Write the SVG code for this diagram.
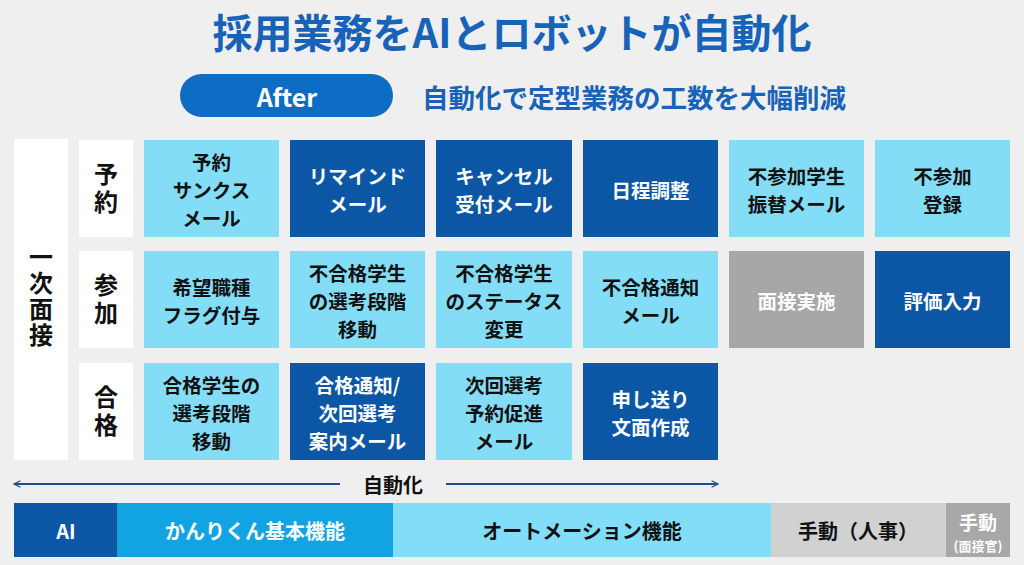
<svg xmlns="http://www.w3.org/2000/svg" width="1024" height="565" viewBox="0 0 1024 565">
<style>
  text { font-family: "Noto Sans CJK JP", "Noto Sans", sans-serif; font-weight: 700; text-anchor: middle; dominant-baseline: central; }
  .light { fill: #84DDF7; }
  .dark { fill: #0B57A5; }
  .gray { fill: #A7A7A7; }
  .white { fill: #FFFFFF; }
  .tb { fill: #111111; font-size: 19.5px; }
  .tw { fill: #FFFFFF; font-size: 19.5px; }
  .vlab { fill: #111111; font-size: 24px; writing-mode: vertical-rl; }
  .bar { font-size: 20px; }
</style>
<defs>
  <marker id="chev" viewBox="0 0 10 10" refX="9" refY="5" markerWidth="8" markerHeight="8" markerUnits="userSpaceOnUse" orient="auto-start-reverse">
    <path d="M1,1 L9,5 L1,9" fill="none" stroke="#1F4F8E" stroke-width="1.5"/>
  </marker>
</defs>
<rect width="1024" height="565" fill="#EFEFEF"/>

<g id="title">
  <text x="512" y="31" style="font-size:40px;fill:#1763B9">採用業務をAIとロボットが自動化</text>
</g>
<g id="after">
  <rect x="180" y="74" width="213" height="43" rx="21.5" fill="#0D6CC3"/>
  <text x="287" y="96" style="font-size:25px;fill:#FFFFFF">After</text>
  <text x="634" y="96" style="font-size:26.5px;fill:#1763B9">自動化で定型業務の工数を大幅削減</text>
</g>

<g id="phase">
  <rect class="white" x="14" y="139" width="54" height="321"/>
  <text class="vlab" x="41" y="297" style="letter-spacing:2px">一次面接</text>
</g>
<g id="row-yoyaku">
  <rect class="white" x="79" y="140" width="54" height="97"/>
  <text class="vlab" x="106" y="190" style="letter-spacing:4px">予約</text>
</g>
<g id="row-sanka">
  <rect class="white" x="79" y="251" width="54" height="97"/>
  <text class="vlab" x="106" y="301" style="letter-spacing:4px">参加</text>
</g>
<g id="row-goukaku">
  <rect class="white" x="79" y="363" width="54" height="97"/>
  <text class="vlab" x="106" y="413" style="letter-spacing:4px">合格</text>
</g>

<!-- Row 1 -->
<g id="n11"><rect class="light" x="144" y="140" width="135" height="97"/>
  <text class="tb" x="211.5" y="161">予約</text><text class="tb" x="211.5" y="189">サンクス</text><text class="tb" x="211.5" y="217">メール</text></g>
<g id="n12"><rect class="dark" x="290" y="140" width="135" height="97"/>
  <text class="tw" x="357.5" y="175">リマインド</text><text class="tw" x="357.5" y="203">メール</text></g>
<g id="n13"><rect class="dark" x="436" y="140" width="136" height="97"/>
  <text class="tw" x="504" y="175">キャンセル</text><text class="tw" x="504" y="203">受付メール</text></g>
<g id="n14"><rect class="dark" x="583" y="140" width="135" height="97"/>
  <text class="tw" x="650.5" y="189">日程調整</text></g>
<g id="n15"><rect class="light" x="729" y="140" width="135" height="97"/>
  <text class="tb" x="796.5" y="175">不参加学生</text><text class="tb" x="796.5" y="203">振替メール</text></g>
<g id="n16"><rect class="light" x="875" y="140" width="135" height="97"/>
  <text class="tb" x="942.5" y="175">不参加</text><text class="tb" x="942.5" y="203">登録</text></g>

<!-- Row 2 -->
<g id="n21"><rect class="light" x="144" y="251" width="135" height="97"/>
  <text class="tb" x="211.5" y="286">希望職種</text><text class="tb" x="211.5" y="314">フラグ付与</text></g>
<g id="n22"><rect class="light" x="290" y="251" width="135" height="97"/>
  <text class="tb" x="357.5" y="272">不合格学生</text><text class="tb" x="357.5" y="300">の選考段階</text><text class="tb" x="357.5" y="328">移動</text></g>
<g id="n23"><rect class="light" x="436" y="251" width="136" height="97"/>
  <text class="tb" x="504" y="272">不合格学生</text><text class="tb" x="504" y="300">のステータス</text><text class="tb" x="504" y="328">変更</text></g>
<g id="n24"><rect class="light" x="583" y="251" width="135" height="97"/>
  <text class="tb" x="650.5" y="286">不合格通知</text><text class="tb" x="650.5" y="314">メール</text></g>
<g id="n25"><rect class="gray" x="729" y="251" width="135" height="97"/>
  <text class="tw" x="796.5" y="300">面接実施</text></g>
<g id="n26"><rect class="dark" x="875" y="251" width="135" height="97"/>
  <text class="tw" x="942.5" y="300">評価入力</text></g>

<!-- Row 3 -->
<g id="n31"><rect class="light" x="144" y="363" width="135" height="97"/>
  <text class="tb" x="211.5" y="384">合格学生の</text><text class="tb" x="211.5" y="412">選考段階</text><text class="tb" x="211.5" y="440">移動</text></g>
<g id="n32"><rect class="dark" x="290" y="363" width="135" height="97"/>
  <text class="tw" x="357.5" y="384">合格通知/</text><text class="tw" x="357.5" y="412">次回選考</text><text class="tw" x="357.5" y="440">案内メール</text></g>
<g id="n33"><rect class="light" x="436" y="363" width="136" height="97"/>
  <text class="tb" x="504" y="384">次回選考</text><text class="tb" x="504" y="412">予約促進</text><text class="tb" x="504" y="440">メール</text></g>
<g id="n34"><rect class="dark" x="583" y="363" width="135" height="97"/>
  <text class="tw" x="650.5" y="398">申し送り</text><text class="tw" x="650.5" y="426">文面作成</text></g>

<g id="connectors">
  <line x1="340" y1="484" x2="14" y2="484" stroke="#1F4F8E" stroke-width="2" marker-end="url(#chev)"/>
  <line x1="446" y1="484" x2="718" y2="484" stroke="#1F4F8E" stroke-width="2" marker-end="url(#chev)"/>
  <text x="393" y="484" style="font-size:20px;fill:#111111">自動化</text>
</g>

<g id="legend">
  <rect x="14" y="503" width="103" height="54" fill="#0B57A5"/>
  <text class="bar" x="66" y="530" fill="#FFFFFF">AI</text>
  <rect x="117" y="503" width="276" height="54" fill="#12A4E2"/>
  <text class="bar" x="255" y="530" fill="#FFFFFF">かんりくん基本機能</text>
  <rect x="393" y="503" width="378" height="54" fill="#82DEF8"/>
  <text class="bar" x="582" y="530" fill="#111111">オートメーション機能</text>
  <rect x="771" y="503" width="175" height="54" fill="#D1D1D1"/>
  <text class="bar" x="858" y="530" fill="#111111">手動（人事）</text>
  <rect x="946" y="503" width="64" height="54" fill="#A8A8A8"/>
  <text x="978" y="521" style="font-size:19px;fill:#FFFFFF">手動</text>
  <text x="978" y="545" style="font-size:13px;fill:#FFFFFF">(面接官)</text>
</g>
</svg>
